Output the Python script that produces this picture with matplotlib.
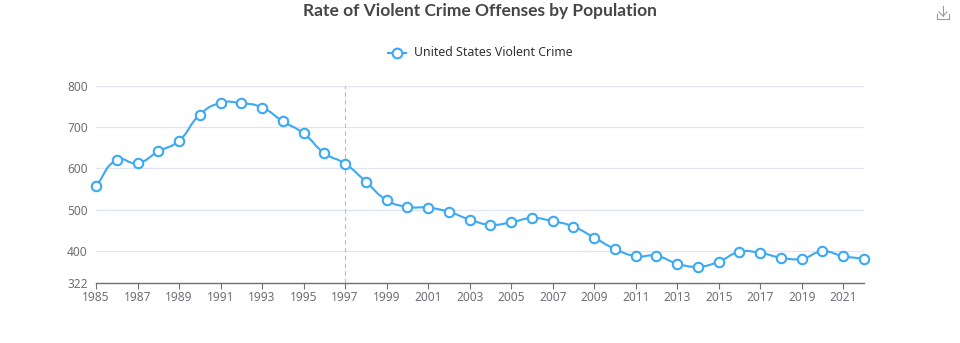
import numpy as np
import matplotlib
matplotlib.use("Agg")
import matplotlib.pyplot as plt
from matplotlib.path import Path
from matplotlib.patches import PathPatch

plt.rcParams['font.family'] = ['Noto Sans', 'DejaVu Sans']

# andmed
years = list(range(1985, 2023))
rates = [556.6, 620.1, 612.5, 640.6, 666.9, 729.6, 758.2, 757.7, 747.1, 713.6,
         684.5, 636.6, 611.0, 567.6, 523.0, 506.5, 504.5, 494.4, 475.8, 463.2,
         469.0, 479.3, 471.8, 458.6, 431.9, 404.5, 387.1, 387.8, 369.1, 361.6,
         373.7, 397.5, 394.9, 383.4, 380.8, 398.5, 387.0, 380.7]
series_name = "United States Violent Crime"
title = "Rate of Violent Crime Offenses by Population"
x_ticks = list(range(1985, 2022, 2))
y_ticks = [322, 400, 500, 600, 700, 800]
y_min, y_max = 322, 800
pointer_year = 1997

blue = "#3ba9f3"
axis_grey = "#6E7079"
grid_col = "#E0E6F1"


def smooth_path(ax, xs, ys, smooth=0.5):
    # bezier kontrollpunktid nagu echartsis, arvutatud pikslites
    pts = ax.transData.transform(np.column_stack([xs, ys]))
    n = len(pts)
    verts = [pts[0]]
    codes = [Path.MOVETO]
    cps = []
    for i in range(n):
        p = pts[i]
        prev = pts[i - 1] if i > 0 else p
        nxt = pts[i + 1] if i < n - 1 else p
        v = nxt - prev
        d0 = np.hypot(*(p - prev))
        d1 = np.hypot(*(p - nxt))
        s = d0 + d1
        if s == 0:
            cps.append((p, p))
            continue
        cps.append((p - v * smooth * d0 / s, p + v * smooth * d1 / s))
    for i in range(n - 1):
        verts += [cps[i][1], cps[i + 1][0], pts[i + 1]]
        codes += [Path.CURVE4] * 3
    inv = ax.transData.inverted()
    return Path(inv.transform(np.array(verts)), codes)


fig = plt.figure(figsize=(9.6, 3.43), dpi=100)
ax = fig.add_axes([96 / 960, 60 / 343, 768 / 960, 197.3 / 343])
ax.set_xlim(years[0], years[-1])
ax.set_ylim(y_min, y_max)

ax.set_yticks(y_ticks)
ax.set_xticks(x_ticks)
ax.set_xticklabels([str(t) for t in x_ticks])
for t in y_ticks[1:]:
    ax.axhline(t, color=grid_col, lw=0.9, zorder=0)

for s in ["top", "right", "left"]:
    ax.spines[s].set_visible(False)
ax.spines["bottom"].set_color(axis_grey)
ax.spines["bottom"].set_linewidth(1)
ax.tick_params(axis="x", colors=axis_grey, labelsize=8.6, length=4, width=0.8,
               pad=2, labelcolor=axis_grey)
ax.tick_params(axis="y", length=0, labelsize=8.6, labelcolor=axis_grey, pad=6)

ax.axvline(pointer_year, color="#b8bcc6", lw=0.8, ls=(0, (4, 3)), zorder=1)

path = smooth_path(ax, years, rates)
ax.add_patch(PathPatch(path, fill=False, ec=blue, lw=1.5, zorder=2, clip_on=False))
ax.plot(years, rates, ls="none", marker="o", ms=6.8, mfc="white", mec=blue,
        mew=1.5, zorder=3, clip_on=False)

fig.text(0.5, 1 - 11 / 343, title, ha="center", va="center", fontsize=12.5,
         fontweight="bold", color="#464646", family=["Lato", "DejaVu Sans"])

# legend
ly = 1 - 53 / 343
fig.add_artist(plt.Line2D([388 / 960, 406 / 960], [ly, ly], color=blue, lw=1.5))
fig.add_artist(plt.Line2D([397 / 960], [ly], marker="o", ms=7, mfc="white",
                          mec=blue, mew=1.5))
fig.text(414 / 960, ly, series_name, ha="left", va="center", fontsize=8.9,
         color="#333333")

# allalaadimise ikoon
ic = "#9a9a9a"
fig.add_artist(plt.Line2D([943 / 960, 943 / 960], [1 - 6 / 343, 1 - 16 / 343], color=ic, lw=0.8))
fig.add_artist(plt.Line2D([939 / 960, 943 / 960, 947 / 960],
                          [1 - 12 / 343, 1 - 16 / 343, 1 - 12 / 343], color=ic, lw=0.8))
fig.add_artist(plt.Line2D([937 / 960, 937 / 960, 949 / 960, 949 / 960],
                          [1 - 14 / 343, 1 - 19 / 343, 1 - 19 / 343, 1 - 14 / 343],
                          color=ic, lw=0.8))

fig.savefig("out.png", dpi=100, facecolor="white")
